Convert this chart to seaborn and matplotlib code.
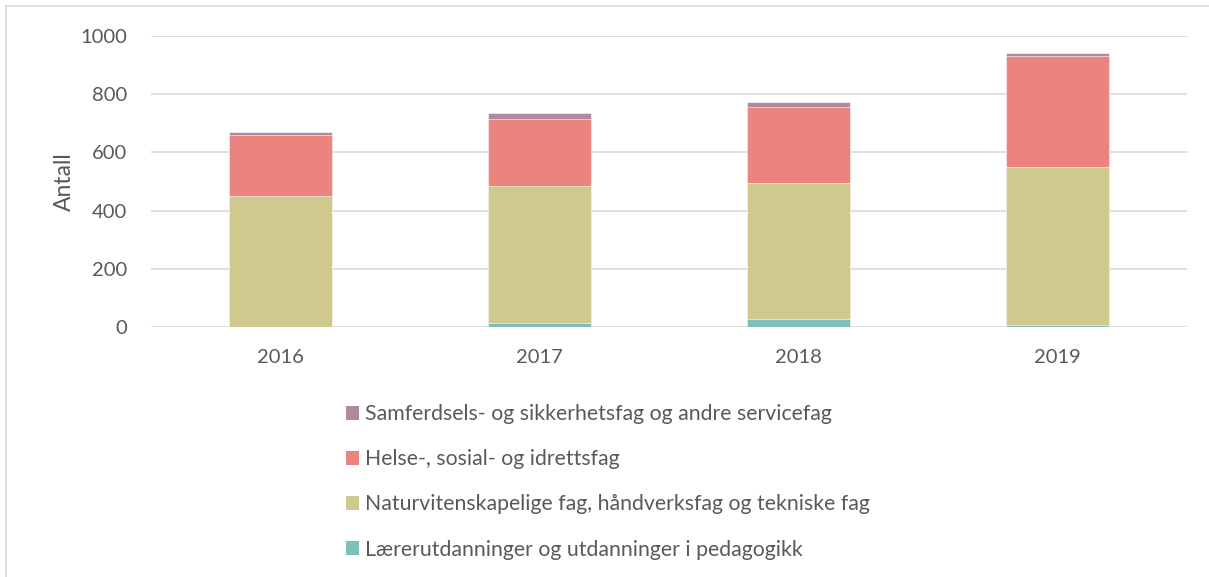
import numpy as np
import pandas as pd
import matplotlib
matplotlib.use("Agg")
import matplotlib.pyplot as plt
from matplotlib.patches import Patch, Rectangle
import seaborn as sns

years = ["2016", "2017", "2018", "2019"]
laerer = [0, 14, 27, 8]
natur = [450, 471, 468, 543]
helse = [208, 229, 262, 379]
samferdsel = [11, 21, 17, 10]

series_names = [
    "Lærerutdanninger og utdanninger i pedagogikk",
    "Naturvitenskapelige fag, håndverksfag og tekniske fag",
    "Helse-, sosial- og idrettsfag",
    "Samferdsels- og sikkerhetsfag og andre servicefag",
]
colors = ["#7FBFBB", "#CFC98D", "#EB837F", "#AD8A9E"]

sns.set_style("white")
plt.rcParams["font.family"] = ["Lato", "DejaVu Sans"]
text_color = "#595959"

fig = plt.figure(figsize=(12.09, 5.77), dpi=100)
ax = fig.add_axes([0.1249, 0.4328, 0.8569, 0.5053])

# cumulative stacks, drawn from the top segment down so lower ones overlay
values = [laerer, natur, helse, samferdsel]
cum = np.cumsum(np.array(values), axis=0)
for i in range(len(values) - 1, -1, -1):
    df = pd.DataFrame({"year": years, "value": cum[i]})
    sns.barplot(data=df, x="year", y="value", color=colors[i], width=0.4,
                saturation=1, edgecolor="white", linewidth=0.4, ax=ax, zorder=3)

ax.set_ylim(0, 1000)
ax.set_xlim(-0.5, 3.5)
ax.set_yticks(range(0, 1001, 200))
ax.yaxis.grid(True, color="#D9D9D9", linewidth=1.2, zorder=0)
ax.set_axisbelow(True)
for s in ax.spines.values():
    s.set_visible(False)
ax.tick_params(axis="both", length=0, labelsize=14.5, colors=text_color)
ax.tick_params(axis="x", pad=16)
ax.tick_params(axis="y", pad=17)
ax.set_xlabel("")
ax.set_ylabel("Antall", fontsize=16.5, color=text_color, labelpad=4)

handles = [Patch(facecolor=colors[i], edgecolor="none") for i in range(3, -1, -1)]
labels = [series_names[i] for i in range(3, -1, -1)]
fig.legend(handles, labels, loc="upper left", bbox_to_anchor=(0.279, 0.314),
           frameon=False, fontsize=15.3, labelcolor=text_color,
           handlelength=0.62, handleheight=0.62, handletextpad=0.3,
           labelspacing=1.18, borderaxespad=0)

# chart frame
fig.patches.append(Rectangle((6 / 1209, -0.02), 1.1, 1 - 6 / 577 + 0.02,
                             transform=fig.transFigure, fill=False,
                             edgecolor="#D9D9D9", linewidth=1.2))

fig.savefig("out.png", dpi=100)
